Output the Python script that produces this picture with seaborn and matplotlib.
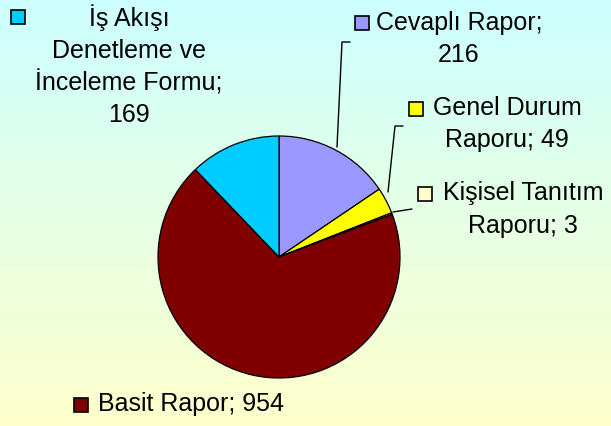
import numpy as np
import matplotlib
matplotlib.use("Agg")
import matplotlib.pyplot as plt
import seaborn as sns
from matplotlib.colors import LinearSegmentedColormap

# ---- data ----
categories = ["Cevaplı Rapor", "Genel Durum Raporu", "Kişisel Tanıtım Raporu",
              "Basit Rapor", "İş Akışı Denetleme ve İnceleme Formu"]
values = [216, 49, 3, 954, 169]
label_texts = ["Cevaplı Rapor;\n216", "Genel Durum\nRaporu; 49", "Kişisel Tanıtım\nRaporu; 3",
               "Basit Rapor; 954", "İş Akışı\nDenetleme ve\nİnceleme Formu;\n169"]
colors = ["#9999FF", "#FFFF00", "#FFFFCC", "#800000", "#00CCFF"]

sns.set_theme(style="white")
plt.rcParams['font.family'] = ['Liberation Sans', 'DejaVu Sans']

W, H = 611, 426
fig = plt.figure(figsize=(W / 100, H / 100), dpi=100)
ax = fig.add_axes([0, 0, 1, 1])

# gradient background
grad = LinearSegmentedColormap.from_list("bg", ["#FFFFCC", "#CCFFFF"])
ax.imshow(np.linspace(0, 1, 256).reshape(-1, 1), cmap=grad, origin="lower",
          extent=[0, W, 0, H], aspect="auto", zorder=0)

cx, cy, r = 279, H - 257, 121
palette = sns.color_palette(colors)
ax.pie(values, colors=palette, startangle=90, counterclock=False,
       center=(cx, cy), radius=r, frame=True,
       wedgeprops=dict(edgecolor="black", linewidth=0.9))
ax.set_xlim(0, W)
ax.set_ylim(0, H)
ax.set_aspect("equal")
ax.axis("off")

fs = 18
# label positions (pixel coords from top-left): text center x, first line center y, marker center
label_layout = [
    (459, 23, (362, 23)),
    (507, 108, (416, 109)),
    (523, 193, (425, 194)),
    (191, 404, (81, 405)),
    (129, 18, (18, 17)),
]
line_h = 32.5
for txt, col, (tx, ty, (mx, my)) in zip(label_texts, colors, label_layout):
    lines = txt.split("\n")
    for i, ln in enumerate(lines):
        ax.text(tx, H - (ty + i * line_h), ln, ha="center", va="center",
                fontsize=fs, color="black", zorder=5)
    ax.plot([mx], [H - my], marker="s", markersize=10.5, markerfacecolor=col,
            markeredgecolor="black", markeredgewidth=1.2, linestyle="none", zorder=6)

# leader lines
leaders = [
    [(337, 147), (342, 42), (350, 42)],
    [(388, 192), (395, 126), (403, 126)],
    [(393, 212), (412, 209)],
]
for pts in leaders:
    xs = [p[0] for p in pts]
    ys = [H - p[1] for p in pts]
    ax.plot(xs, ys, color="black", linewidth=1.0, zorder=4)

fig.savefig("out.png", dpi=100)
